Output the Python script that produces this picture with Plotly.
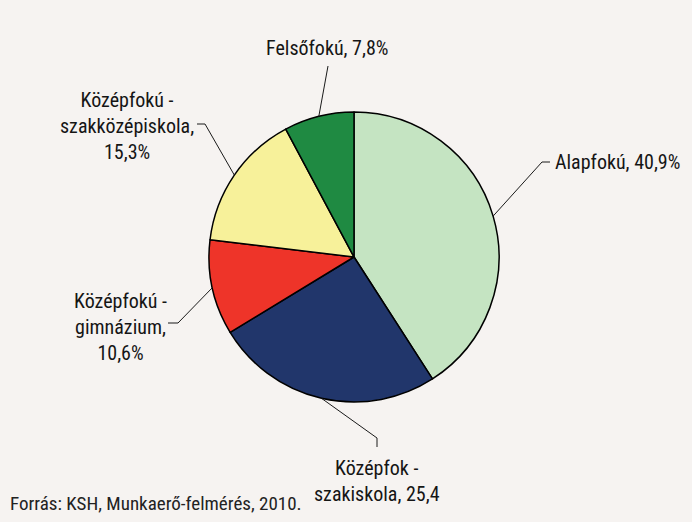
import math
import plotly.graph_objects as go

labels = ["Alapfokú", "Középfok - szakiskola", "Középfokú - gimnázium",
          "Középfokú - szakközépiskola", "Felsőfokú"]
values = [40.9, 25.4, 10.6, 15.3, 7.8]
label_texts = ["Alapfokú, 40,9%", "Középfok -<br>szakiskola, 25,4",
               "Középfokú -<br>gimnázium,<br>10,6%",
               "Középfokú -<br>szakközépiskola,<br>15,3%", "Felsőfokú, 7,8%"]
colors = ["#c5e4c2", "#21366b", "#ee3429", "#f7f19a", "#1f8a42"]
source = "Forrás: KSH, Munkaerő-felmérés, 2010."

W, H = 692, 522
CX, CY, R = 354, 257, 145
FONT = "Liberation Sans Narrow, Arial Narrow, Roboto Condensed, sans-serif"

# label layout (pixels): elbow points, end of leader, text anchor
elbows = [(542, 162), (377, 438), (178, 323), (205, 124), (328, 66)]
ends = [(550, 162), (377, 447), (168, 323), (197, 124), (328, 66)]
text_pos = [(553, 162, "left"), (377, 481, "center"), (120, 327, "center"),
            (127, 126, "center"), (327, 48, "center")]


def px(x, y):
    return x / W, 1 - y / H


fig = go.Figure(go.Pie(
    labels=labels, values=values, sort=False, direction="clockwise",
    rotation=0, textinfo="none", hoverinfo="label+value",
    marker=dict(colors=colors, line=dict(color="#000000", width=1.5)),
    domain=dict(x=[(CX - R) / W, (CX + R) / W],
                y=[(H - CY - R) / H, (H - CY + R) / H]),
    showlegend=False,
))

shapes = []
annotations = []
total = sum(values)
cum = 0
for i, v in enumerate(values):
    mid = (cum + v / 2) / total * 2 * math.pi
    cum += v
    sx = CX + R * math.sin(mid)
    sy = CY - R * math.cos(mid)
    ex, ey = elbows[i]
    fx, fy = ends[i]
    pts = [px(sx, sy), px(ex, ey), px(fx, fy)]
    path = "M {} {} L {} {} L {} {}".format(pts[0][0], pts[0][1], pts[1][0],
                                             pts[1][1], pts[2][0], pts[2][1])
    shapes.append(dict(type="path", xref="paper", yref="paper", path=path,
                       line=dict(color="#1a1a1a", width=1)))
    tx, ty, anc = text_pos[i]
    ax, ay = px(tx, ty)
    annotations.append(dict(x=ax, y=ay, xref="paper", yref="paper",
                            text=label_texts[i], showarrow=False,
                            xanchor=anc, yanchor="middle", align="center",
                            font=dict(family=FONT, size=20, color="#151515")))

annotations.append(dict(x=8 / W, y=1 - 503 / H, xref="paper", yref="paper",
                        text=source, showarrow=False, xanchor="left",
                        yanchor="middle",
                        font=dict(family=FONT, size=19, color="#222222")))

fig.update_layout(width=W, height=H, margin=dict(l=0, r=0, t=0, b=0),
                  paper_bgcolor="#f6f3f1", plot_bgcolor="#f6f3f1",
                  shapes=shapes, annotations=annotations)
fig.write_html("out.html", config={"displayModeBar": False},
               post_script="document.body.style.margin='0';"
                           "document.body.style.overflow='hidden';")
